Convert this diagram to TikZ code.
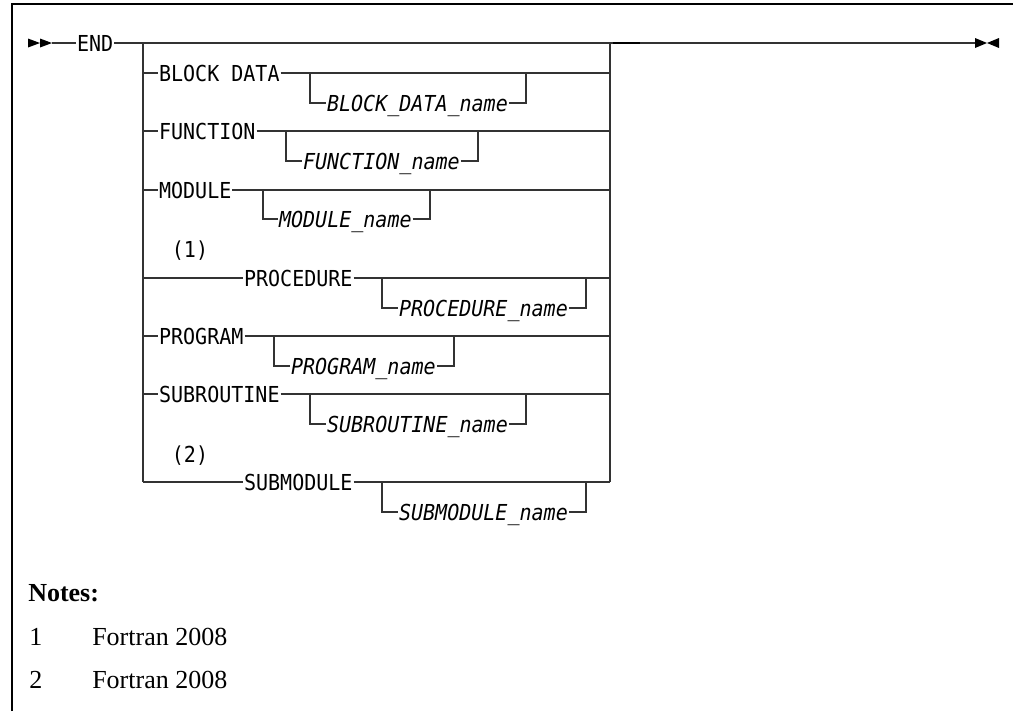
\documentclass[tikz,border=0pt]{standalone}
\usepackage{fontspec}
\newfontfamily\rrmono[FakeStretch=0.91]{DejaVu Sans Mono}
\newfontfamily\notefont{Liberation Serif}
\begin{document}
\begin{tikzpicture}[x=0.75pt,y=-0.75pt,
  rr/.style={line width=1.1pt, draw=black!80},
  kw/.style={font=\rrmono\fontsize{16.5}{19}\selectfont, anchor=west, inner xsep=0.8pt, inner ysep=0pt, text height=12pt, text depth=0pt, outer sep=0pt},
  nm/.style={kw, font=\rrmono\itshape\fontsize{16.5}{19}\selectfont},
  note/.style={font=\notefont\fontsize{19.5}{22}\selectfont, anchor=base west, inner sep=0pt}]
\useasboundingbox (0,0) rectangle (1013,711);
% frame
\draw[line width=1.5pt] (12,711) -- (12,4) -- (1013,4);
% start and end marks
\fill (28,38.5) -- (40,43) -- (28,47.5) -- cycle;
\fill (40,38.5) -- (52,43) -- (40,47.5) -- cycle;
\fill (975,38) -- (987,43) -- (975,48) -- cycle;
\fill (999,38) -- (987,43) -- (999,48) -- cycle;
\coordinate (s) at (52,43);
\node[kw] (end) at (76,43) {END};
\coordinate (lt) at (143,43);
\coordinate (rt) at (610,43);
\coordinate (e) at (975,43);
\coordinate (lb) at (143,482);
\coordinate (rb) at (610,482);
\draw[rr] (s) -- (end) -- (lt) -- (rt) -- (e);
\draw[line width=1.6pt] (613,43) -- (640,43);
\draw[rr] (lt) -- (lb);
\draw[rr] (rt) -- (rb);
% BLOCK DATA
\node[kw] (bd) at (158,73) {BLOCK DATA};
\coordinate (bdL) at (143,73); \coordinate (bdR) at (610,73);
\coordinate (bd1) at (310,73); \coordinate (bd2) at (526,73);
\node[nm] (bdn) at (326,103) {BLOCK\_DATA\_name};
\draw[rr] (bdL) -- (bd) -- (bdR);
\draw[rr] (bd1) |- (bdn);
\draw[rr] (bdn) -| (bd2);
% FUNCTION
\node[kw] (fn) at (158,131) {FUNCTION};
\coordinate (fnL) at (143,131); \coordinate (fnR) at (610,131);
\coordinate (fn1) at (286,131); \coordinate (fn2) at (478,131);
\node[nm] (fnn) at (302,161) {FUNCTION\_name};
\draw[rr] (fnL) -- (fn) -- (fnR);
\draw[rr] (fn1) |- (fnn);
\draw[rr] (fnn) -| (fn2);
% MODULE
\node[kw] (md) at (158,190) {MODULE};
\coordinate (mdL) at (143,190); \coordinate (mdR) at (610,190);
\coordinate (md1) at (263,190); \coordinate (md2) at (430,190);
\node[nm] (mdn) at (278,219) {MODULE\_name};
\draw[rr] (mdL) -- (md) -- (mdR);
\draw[rr] (md1) |- (mdn);
\draw[rr] (mdn) -| (md2);
% (1) PROCEDURE
\node[kw, anchor=center] (n1) at (190,249) {(1)};
\node[kw] (pc) at (243,278) {PROCEDURE};
\coordinate (pcL) at (143,278); \coordinate (pcR) at (610,278);
\coordinate (pc1) at (382,278); \coordinate (pc2) at (586,278);
\node[nm] (pcn) at (398,308) {PROCEDURE\_name};
\draw[rr] (pcL) -- (pc) -- (pcR);
\draw[rr] (pc1) |- (pcn);
\draw[rr] (pcn) -| (pc2);
% PROGRAM
\node[kw] (pg) at (158,336) {PROGRAM};
\coordinate (pgL) at (143,336); \coordinate (pgR) at (610,336);
\coordinate (pg1) at (274,336); \coordinate (pg2) at (454,336);
\node[nm] (pgn) at (290,366) {PROGRAM\_name};
\draw[rr] (pgL) -- (pg) -- (pgR);
\draw[rr] (pg1) |- (pgn);
\draw[rr] (pgn) -| (pg2);
% SUBROUTINE
\node[kw] (sr) at (158,394) {SUBROUTINE};
\coordinate (srL) at (143,394); \coordinate (srR) at (610,394);
\coordinate (sr1) at (310,394); \coordinate (sr2) at (526,394);
\node[nm] (srn) at (326,424) {SUBROUTINE\_name};
\draw[rr] (srL) -- (sr) -- (srR);
\draw[rr] (sr1) |- (srn);
\draw[rr] (srn) -| (sr2);
% (2) SUBMODULE
\node[kw, anchor=center] (n2) at (190,454) {(2)};
\node[kw] (sm) at (243,482) {SUBMODULE};
\coordinate (sm1) at (382,482); \coordinate (sm2) at (586,482);
\node[nm] (smn) at (398,512) {SUBMODULE\_name};
\draw[rr] (lb) -- (sm) -- (rb);
\draw[rr] (sm1) |- (smn);
\draw[rr] (smn) -| (sm2);
% notes
\node[note, font=\notefont\bfseries\fontsize{19.5}{22}\selectfont] (notes) at (28,601) {Notes:};
\node[note] (k1) at (29,645) {1};
\node[note] (t1) at (92,645) {Fortran 2008};
\node[note] (k2) at (29,688) {2};
\node[note] (t2) at (92,688) {Fortran 2008};
\end{tikzpicture}
\end{document}
